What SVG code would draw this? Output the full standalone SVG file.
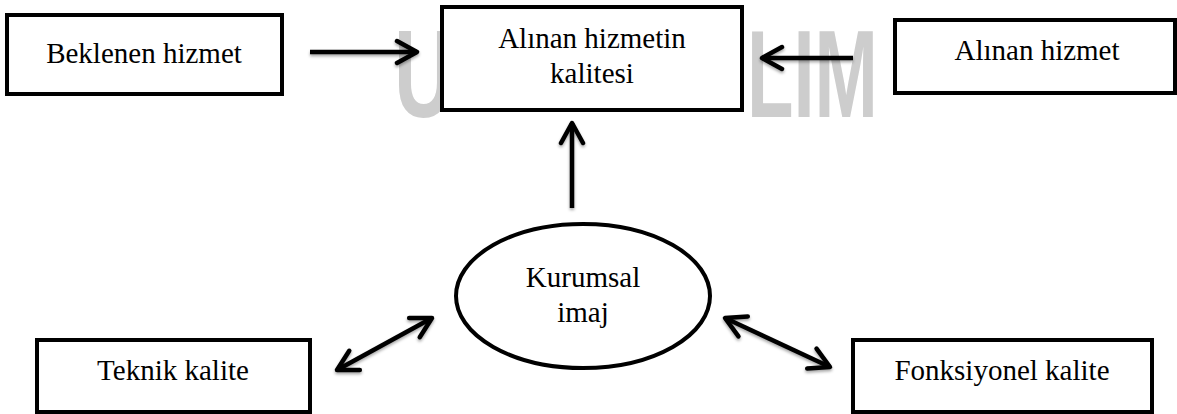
<svg xmlns="http://www.w3.org/2000/svg" width="1177" height="414" viewBox="0 0 1177 414">
  <style>
    .box { fill: #ffffff; stroke: #000000; stroke-width: 4; }
    .lbl { font-family: "Liberation Serif", "Times New Roman", Times, "DejaVu Serif", serif; font-size: 29px; fill: #000000; text-anchor: middle; }
    .wm { font-family: "Liberation Sans", Arial, sans-serif; font-weight: bold; font-size: 124px; fill: #cdcdcd; }
    .conn { stroke: #000000; stroke-width: 4.5; fill: none; stroke-linecap: butt; }
  </style>
  <defs>
    <marker id="chev" viewBox="0 0 26 28" refX="23" refY="14" markerWidth="26" markerHeight="28" markerUnits="userSpaceOnUse" orient="auto-start-reverse">
      <path d="M3,3 L23,14 L3,25" fill="none" stroke="#000000" stroke-width="4.5" stroke-linecap="round" stroke-linejoin="round"/>
    </marker>
    <filter id="shadow" x="-20%" y="-40%" width="140%" height="180%">
      <feDropShadow dx="0" dy="2" stdDeviation="1.6" flood-color="#000000" flood-opacity="0.35"/>
    </filter>
  </defs>

  <rect x="0" y="0" width="1177" height="414" fill="#ffffff"/>

  <!-- watermark (visible parts) -->
  <g id="watermark">
    <text class="wm" x="394" y="117" textLength="60" lengthAdjust="spacingAndGlyphs">U</text>
    <text class="wm" x="747" y="117" textLength="131" lengthAdjust="spacingAndGlyphs">LIM</text>
  </g>

  <g id="connectors" filter="url(#shadow)">
    <line class="conn" x1="310" y1="52" x2="417" y2="52" marker-end="url(#chev)"/>
    <line class="conn" x1="853" y1="58" x2="762" y2="58" marker-end="url(#chev)"/>
    <line class="conn" x1="572" y1="208" x2="572" y2="123" marker-end="url(#chev)"/>
    <line class="conn" x1="337" y1="370" x2="432" y2="318" marker-start="url(#chev)" marker-end="url(#chev)"/>
    <line class="conn" x1="725" y1="318" x2="830" y2="367" marker-start="url(#chev)" marker-end="url(#chev)"/>
  </g>

  <g id="beklenen-hizmet">
    <rect class="box" x="7" y="15" width="275" height="79"/>
    <text class="lbl" x="144" y="63">Beklenen hizmet</text>
  </g>

  <g id="alinan-hizmetin-kalitesi">
    <rect class="box" x="442" y="7" width="300" height="103"/>
    <text class="lbl" x="592" y="48">Alınan hizmetin</text>
    <text class="lbl" x="592" y="83">kalitesi</text>
  </g>

  <g id="alinan-hizmet">
    <rect class="box" x="895" y="20" width="280" height="73"/>
    <text class="lbl" x="1037" y="60">Alınan hizmet</text>
  </g>

  <g id="kurumsal-imaj">
    <ellipse class="box" cx="583" cy="296" rx="127" ry="72"/>
    <text class="lbl" x="583" y="287">Kurumsal</text>
    <text class="lbl" x="583" y="322">imaj</text>
  </g>

  <g id="teknik-kalite">
    <rect class="box" x="37" y="340" width="273" height="72"/>
    <text class="lbl" x="173" y="380">Teknik kalite</text>
  </g>

  <g id="fonksiyonel-kalite">
    <rect class="box" x="853" y="340" width="299" height="72"/>
    <text class="lbl" x="1002" y="380">Fonksiyonel kalite</text>
  </g>
</svg>
